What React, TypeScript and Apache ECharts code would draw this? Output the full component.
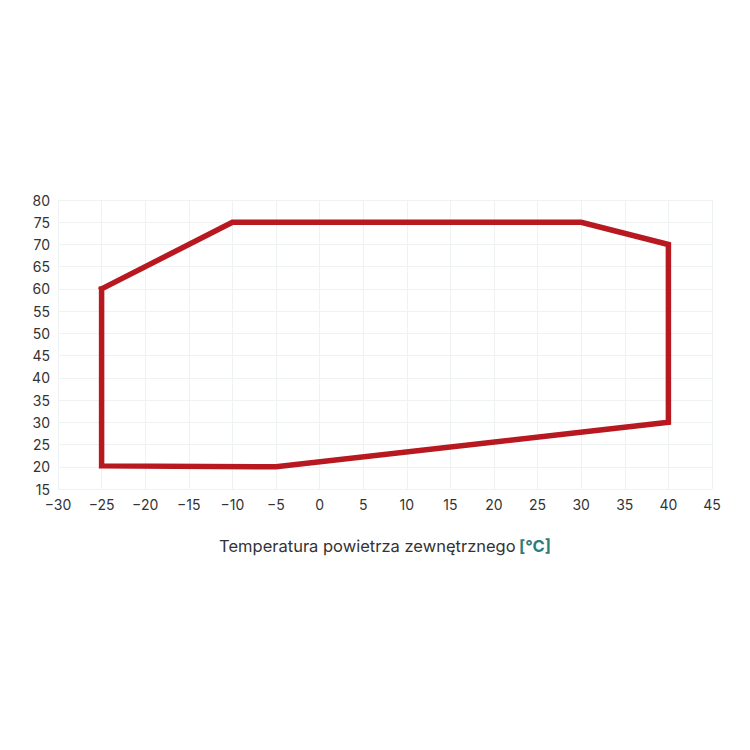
import React, { useEffect, useRef } from "react";
import * as echarts from "echarts";

const temps = [-25, -10, 30, 40, 40, -5, -25, -25];
const flowTemps = [60, 75, 75, 70, 30, 20, 20.2, 60];
const axisTitle = "Temperatura powietrza zewnętrznego";
const axisUnit = "[°C]";

export default function App() {
  const ref = useRef<HTMLDivElement>(null);
  useEffect(() => {
    const chart = echarts.init(ref.current!, null, { renderer: "svg" });
    const data = temps.map((t, i) => [t, flowTemps[i]]);
    chart.setOption({
      animation: false,
      backgroundColor: "#ffffff",
      grid: { left: 58, right: 38, top: 200, bottom: 261, containLabel: false },
      xAxis: {
        type: "value",
        min: -30,
        max: 45,
        interval: 5,
        axisLine: { show: false },
        axisTick: { show: false },
        splitLine: { show: true, lineStyle: { color: "#eef2f2", width: 1 } },
        axisLabel: {
          color: "#333333",
          fontSize: 14,
          fontFamily: "Inter",
          margin: 8,
          formatter: (v: number) => (v < 0 ? "\u2212" + Math.abs(v) : String(v)),
        },
        name: `{t|${axisTitle}} {u|${axisUnit}}`,
        nameLocation: "middle",
        nameGap: 48,
        nameTextStyle: {
          rich: {
            t: { fontSize: 16.5, color: "#333333", fontFamily: "Inter" },
            u: { fontSize: 16.5, color: "#2e7d7a", fontWeight: "bold", fontFamily: "Inter" },
          },
        },
      },
      yAxis: {
        type: "value",
        min: 15,
        max: 80,
        interval: 5,
        axisLine: { show: false },
        axisTick: { show: false },
        splitLine: { show: true, lineStyle: { color: "#eef2f2", width: 1 } },
        axisLabel: { color: "#333333", fontSize: 14, fontFamily: "Inter", margin: 8 },
      },
      series: [
        {
          type: "line",
          data,
          showSymbol: false,
          symbol: "none",
          lineStyle: { color: "#b8181f", width: 5.5, join: "miter", cap: "square" },
        },
      ],
    });
    return () => chart.dispose();
  }, []);
  return <div ref={ref} style={{ width: 750, height: 750, margin: -8 }} />;
}
